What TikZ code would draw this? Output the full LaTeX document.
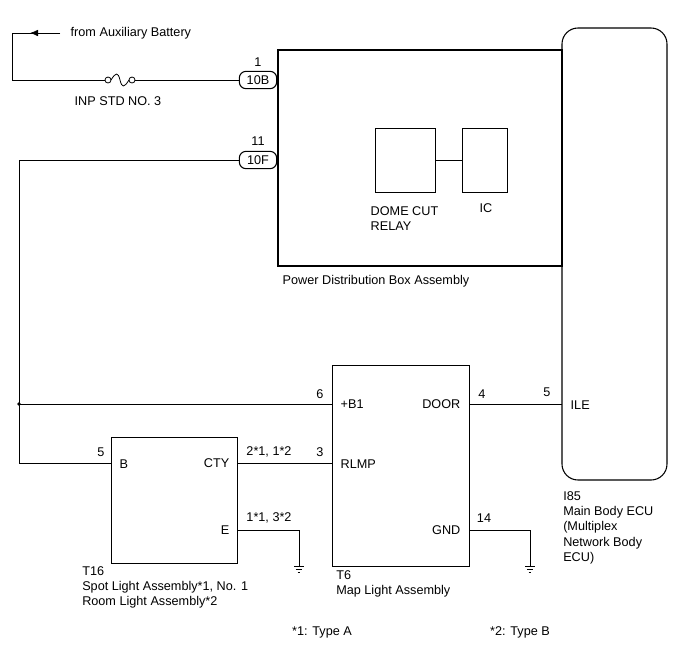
\documentclass[tikz,border=0pt]{standalone}
\usepackage{fontspec}
\setmainfont{Liberation Sans}
\usetikzlibrary{arrows.meta,positioning}
\tikzset{
	wire/.style={draw,line width=.6pt},
	box/.style={draw,line width=.8pt},
	pin/.style={font=\fontsize{9.5}{10}\selectfont},
	lbl/.style={font=\fontsize{9.5}{11.5}\selectfont,align=left},
	conn/.style={draw,line width=.8pt,rounded corners=5pt,minimum width=28pt,minimum height=13pt,inner sep=0pt,font=\fontsize{9.5}{10}\selectfont},
	gnd/.pic={\draw[wire] (-5,0) -- (5,0) (-3.2,3) -- (3.2,3) (-1.4,6) -- (1.4,6);},
}
\begin{document}
\begin{tikzpicture}[x=0.75pt,y=-0.75pt,every node/.style={font=\fontsize{9.5}{11.5}\selectfont}]
\useasboundingbox (0,0) rectangle (688,658);
% boxes
\draw[box] (278,50) rectangle (562,266);
\node[box,minimum width=45pt,minimum height=48pt] (relay) at (405.5,160.5) {};
\node[box,minimum width=34pt,minimum height=48pt] (ic) at (485,160.5) {};
\draw[wire] (relay) -- (ic);
\draw[box,rounded corners=12pt] (562,28) rectangle (667,480);
\node[box,minimum width=95pt,minimum height=95pt] (t16) at (174.5,500.5) {};
\node[box,minimum width=103pt,minimum height=151pt] (t6) at (401,466) {};
% connectors
\node[conn] (c10B) at (258,80) {10B};
\node[conn] (c10F) at (258,160) {10F};
\node[pin] at (258,62) {1};
\node[pin] at (258,141) {11};
% battery feed with fuse
\coordinate (bat) at (60,33);
\coordinate (fa) at (105,80);
\coordinate (fb) at (135,80);
\draw[wire] (bat) -- (12,33) -- (12,80) -- (fa);
\draw[wire,-{Latex[length=6pt,width=5pt]}] (bat) -- (30,33);
\draw[wire] (fa) ++(3,0) circle (3) (fb) ++(-3,0) circle (3);
\draw[wire] (111,80) .. controls (116,72) and (118,72) .. (120,80) .. controls (122,88) and (124,88) .. (129,80);
\draw[wire] (fb) -- (c10B.west);
\node[lbl,anchor=west] at (66,33) {from Auxiliary Battery};
\node[lbl] at (118,101) {INP STD NO. 3};
% +B line
\coordinate (jn) at (19,404);
\draw[wire] (c10F.west) -- (19,160) -- (19,463) -- (t16.west |- 0,463);
\fill (jn) circle (1.8);
\draw[wire] (jn) -- (t6.west |- jn);
\draw[wire] (t16.east |- 0,463) -- (t6.west |- 0,463);
\draw[wire] (t6.east |- 0,404) -- (562,404);
\draw[wire] (t16.east |- 0,530) -- (299,530) -- (299,566);
\draw[wire] (t6.east |- 0,530) -- (530,530) -- (530,566);
\pic at (299,566) {gnd};
\pic at (530,566) {gnd};
% pins
\node[pin] at (320,394) {6};
\node[pin,anchor=west] at (336,404) {+B1};
\node[pin,anchor=east] at (465,404) {DOOR};
\node[pin] at (482,394) {4};
\node[pin] at (547,392) {5};
\node[pin,anchor=west] at (566,405) {ILE};
\node[pin,anchor=west] at (336,464) {RLMP};
\node[pin] at (320,452) {3};
\node[pin,anchor=east] at (234,463) {CTY};
\node[pin] at (269,452) {2*1, 1*2};
\node[pin,anchor=west] at (115,464) {B};
\node[pin] at (101,452) {5};
\node[pin,anchor=east] at (234,530) {E};
\node[pin] at (269,518) {1*1, 3*2};
\node[pin,anchor=east] at (465,530) {GND};
\node[pin] at (484,518) {14};
% labels
\node[lbl,anchor=north west] at (366,202) {DOME CUT\\RELAY};
\node[lbl] at (486,208) {IC};
\node[lbl,anchor=west] at (278,281) {Power Distribution Box Assembly};
\node[lbl,anchor=north west,inner sep=0pt] at (82,566) {T16\\Spot Light Assembly*1, No. 1\\Room Light Assembly*2};
\node[lbl,anchor=north west,inner sep=0pt] at (336,570) {T6\\Map Light Assembly};
\node[lbl,anchor=north west,inner sep=0pt] at (563,491) {I85\\Main Body ECU\\(Multiplex\\Network Body\\ECU)};
\node[lbl] at (322,632) {*1: Type A};
\node[lbl] at (520,632) {*2: Type B};
\end{tikzpicture}
\end{document}
